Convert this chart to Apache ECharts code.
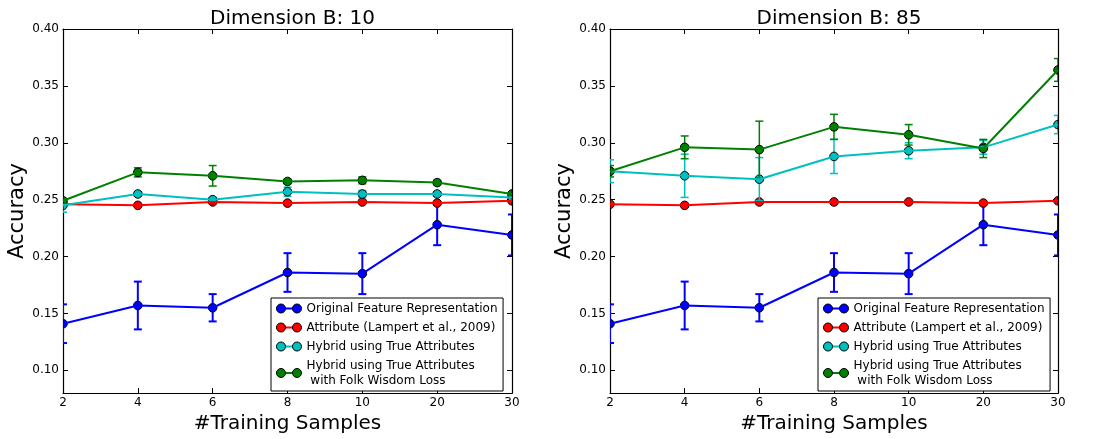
<!DOCTYPE html>
<html>
<head>
<meta charset="utf-8">
<script src="https://cdn.jsdelivr.net/npm/echarts@6/dist/echarts.min.js"></script>
<style>
  html, body { margin: 0; padding: 0; background: #ffffff; }
  #chart { width: 1096px; height: 439px; }
</style>
</head>
<body>
<div id="chart"></div>
<script>
// Shared axes and labels
const categories = ['2', '4', '6', '8', '10', '20', '30'];
const yTickValues = [0.10, 0.15, 0.20, 0.25, 0.30, 0.35, 0.40];
const panelTitles = ['Dimension B: 10', 'Dimension B: 85'];
const seriesNames = [
  'Original Feature Representation',
  'Attribute (Lampert et al., 2009)',
  'Hybrid using True Attributes',
  'Hybrid using True Attributes\n with Folk Wisdom Loss'
];
const seriesColors = ['#0000ff', '#ff0000', '#00bfbf', '#008000'];

// Dimension B: 10 — mean accuracy and error-bar half widths
const originalB10 = [0.141, 0.157, 0.155, 0.186, 0.185, 0.228, 0.219];
const originalErrB10 = [0.017, 0.021, 0.012, 0.017, 0.018, 0.018, 0.018];
const attributeB10 = [0.246, 0.245, 0.248, 0.247, 0.248, 0.247, 0.249];
const attributeErrB10 = [0, 0, 0, 0, 0, 0, 0];
const hybridB10 = [0.245, 0.255, 0.250, 0.257, 0.255, 0.255, 0.252];
const hybridErrB10 = [0.006, 0.002, 0.002, 0.004, 0.003, 0.002, 0.002];
const folkB10 = [0.249, 0.274, 0.271, 0.266, 0.267, 0.265, 0.255];
const folkErrB10 = [0.002, 0.004, 0.009, 0.002, 0.003, 0.002, 0.002];

// Dimension B: 85
const originalB85 = [0.141, 0.157, 0.155, 0.186, 0.185, 0.228, 0.219];
const originalErrB85 = [0.017, 0.021, 0.012, 0.017, 0.018, 0.018, 0.018];
const attributeB85 = [0.246, 0.245, 0.248, 0.248, 0.248, 0.247, 0.249];
const attributeErrB85 = [0, 0, 0, 0, 0, 0, 0];
const hybridB85 = [0.275, 0.271, 0.268, 0.288, 0.293, 0.296, 0.316];
const hybridErrB85 = [0.010, 0.019, 0.019, 0.015, 0.007, 0.006, 0.008];
const folkB85 = [0.275, 0.296, 0.294, 0.314, 0.307, 0.295, 0.364];
const folkErrB85 = [0.005, 0.010, 0.025, 0.011, 0.009, 0.008, 0.010];

const panels = [
  {
    title: panelTitles[0],
    values: [originalB10, attributeB10, hybridB10, folkB10],
    errors: [originalErrB10, attributeErrB10, hybridErrB10, folkErrB10]
  },
  {
    title: panelTitles[1],
    values: [originalB85, attributeB85, hybridB85, folkB85],
    errors: [originalErrB85, attributeErrB85, hybridErrB85, folkErrB85]
  }
];

const FONT = 'DejaVu Sans';
const chart = echarts.init(document.getElementById('chart'), null, { renderer: 'canvas' });

const grids = [
  { left: 63, right: 584, top: 29, bottom: 44 },
  { left: 610, right: 38, top: 29, bottom: 44 }
];
const legendPos = [
  { left: 271, top: 298 },
  { left: 818, top: 298 }
];

// Error bar + circular marker for one point; parts outside the plot frame are cut off
function pointRenderer(color, barWidth) {
  return function (params, api) {
    const xi = api.value(0);
    const v = api.value(1);
    const e = api.value(2);
    const c = api.coord([xi, v]);
    const cs = params.coordSys;
    const xMin = cs.x;
    const xMax = cs.x + cs.width;
    const r = 4.3;
    const children = [];
    if (e > 0) {
      const top = api.coord([xi, v + e]);
      const bot = api.coord([xi, v - e]);
      const cap = 4;
      const x1 = Math.max(xMin, c[0] - cap);
      const x2 = Math.min(xMax, c[0] + cap);
      const st = { stroke: color, lineWidth: barWidth };
      children.push({ type: 'line', shape: { x1: c[0], y1: top[1], x2: c[0], y2: bot[1] }, style: st });
      children.push({ type: 'line', shape: { x1: x1, y1: top[1], x2: x2, y2: top[1] }, style: st });
      children.push({ type: 'line', shape: { x1: x1, y1: bot[1], x2: x2, y2: bot[1] }, style: st });
    }
    const markerStyle = { fill: color, stroke: '#000000', lineWidth: 1 };
    if (c[0] - xMin < 0.5) {
      children.push({ type: 'sector', shape: { cx: c[0], cy: c[1], r0: 0, r: r, startAngle: -Math.PI / 2, endAngle: Math.PI / 2 }, style: markerStyle });
    } else if (xMax - c[0] < 0.5) {
      children.push({ type: 'sector', shape: { cx: c[0], cy: c[1], r0: 0, r: r, startAngle: Math.PI / 2, endAngle: Math.PI * 1.5 }, style: markerStyle });
    } else {
      children.push({ type: 'circle', shape: { cx: c[0], cy: c[1], r: r }, style: markerStyle });
    }
    return { type: 'group', children: children };
  };
}

const xAxes = [];
const yAxes = [];
const series = [];
const titles = [];
const legends = [];

const tickLabelStyle = { fontFamily: FONT, fontSize: 12, color: '#000000' };
const axisLineStyle = { lineStyle: { color: '#000000', width: 1.2 } };

panels.forEach(function (panel, p) {
  const g = grids[p];
  const plotCenter = g.left + (1096 - g.left - g.right) / 2;
  titles.push({
    text: panel.title,
    left: plotCenter,
    top: 4,
    textAlign: 'center',
    textStyle: { fontFamily: FONT, fontSize: 20, fontWeight: 'normal', color: '#000000' }
  });

  // bottom and top x axes
  xAxes.push({
    type: 'category', gridIndex: p, data: categories, boundaryGap: false, position: 'bottom',
    name: '#Training Samples', nameLocation: 'middle', nameGap: 10,
    nameTextStyle: { fontFamily: FONT, fontSize: 20, color: '#000000' },
    axisLine: axisLineStyle,
    axisTick: { inside: true, length: 5, lineStyle: { color: '#000000' } },
    axisLabel: Object.assign({ margin: 4 }, tickLabelStyle),
    splitLine: { show: false }
  });
  xAxes.push({
    type: 'category', gridIndex: p, data: categories, boundaryGap: false, position: 'top',
    axisLine: axisLineStyle,
    axisTick: { inside: true, length: 5, lineStyle: { color: '#000000' } },
    axisLabel: { show: false },
    splitLine: { show: false }
  });
  // left and right y axes
  yAxes.push({
    type: 'value', gridIndex: p, min: 0.08, max: 0.40, position: 'left',
    name: 'Accuracy', nameLocation: 'middle', nameGap: 29,
    nameTextStyle: { fontFamily: FONT, fontSize: 21, color: '#000000' },
    axisLine: Object.assign({ show: true }, axisLineStyle),
    axisTick: { show: true, inside: true, length: 5, customValues: yTickValues, lineStyle: { color: '#000000' } },
    axisLabel: Object.assign({
      margin: 4,
      customValues: yTickValues,
      formatter: function (v) { return v.toFixed(2); }
    }, tickLabelStyle),
    splitLine: { show: false }
  });
  yAxes.push({
    type: 'value', gridIndex: p, min: 0.08, max: 0.40, position: 'right',
    axisLine: Object.assign({ show: true }, axisLineStyle),
    axisTick: { show: true, inside: true, length: 5, customValues: yTickValues, lineStyle: { color: '#000000' } },
    axisLabel: { show: false },
    splitLine: { show: false }
  });

  panel.values.forEach(function (vals, s) {
    const color = seriesColors[s];
    series.push({
      type: 'line',
      name: seriesNames[s],
      xAxisIndex: p * 2,
      yAxisIndex: p * 2,
      data: vals,
      symbol: 'none',
      silent: true,
      clip: true,
      itemStyle: { color: color },
      lineStyle: { color: color, width: 2 },
      animation: false
    });
    const errs = panel.errors[s];
    series.push({
      type: 'custom',
      name: seriesNames[s],
      xAxisIndex: p * 2,
      yAxisIndex: p * 2,
      clip: true,
      silent: true,
      itemStyle: { color: color },
      encode: { x: 0, y: 1 },
      data: vals.map(function (v, i) { return [i, v, errs[i]]; }),
      renderItem: pointRenderer(color, s === 0 ? 2 : 1.5),
      animation: false
    });
  });

  const common = {
    orient: 'vertical',
    left: legendPos[p].left,
    top: legendPos[p].top,
    padding: [3, 6, 3, 5],
    itemGap: 4,
    itemWidth: 25,
    selectedMode: false,
    data: seriesNames
  };
  // connecting segment of each legend key, inside the framed box
  legends.push(Object.assign({}, common, {
    icon: 'rect',
    itemHeight: 2,
    backgroundColor: '#ffffff',
    borderColor: '#000000',
    borderWidth: 1,
    itemStyle: { borderWidth: 0 },
    textStyle: { fontFamily: FONT, fontSize: 12, lineHeight: 15, color: 'rgba(0,0,0,0)' },
    z: 10
  }));
  // end markers of each legend key plus the label text
  legends.push(Object.assign({}, common, {
    icon: 'path://M0,4.5A4.5,4.5 0 1,1 9,4.5A4.5,4.5 0 1,1 0,4.5ZM16,4.5A4.5,4.5 0 1,1 25,4.5A4.5,4.5 0 1,1 16,4.5Z',
    itemHeight: 9,
    borderWidth: 0,
    itemStyle: { borderColor: '#000000', borderWidth: 1 },
    textStyle: { fontFamily: FONT, fontSize: 12, lineHeight: 15, color: '#000000' },
    z: 11
  }));
});

chart.setOption({
  animation: false,
  backgroundColor: '#ffffff',
  textStyle: { fontFamily: FONT },
  title: titles,
  grid: grids,
  xAxis: xAxes,
  yAxis: yAxes,
  legend: legends,
  series: series
});
</script>
</body>
</html>
